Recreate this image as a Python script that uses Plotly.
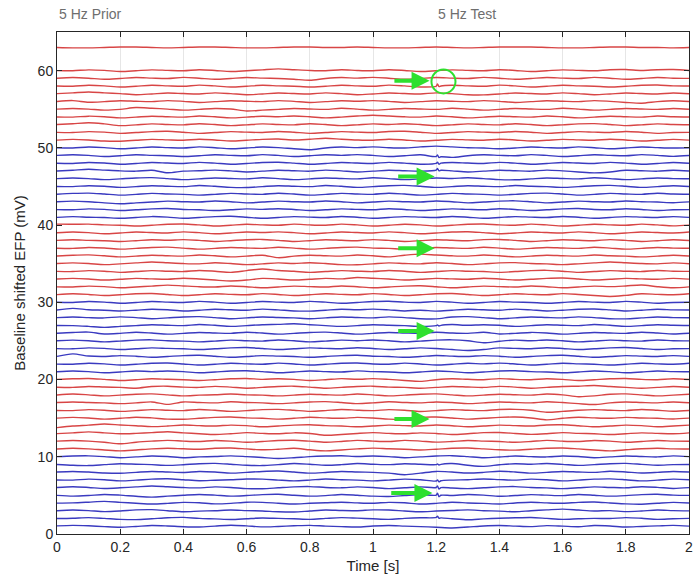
import plotly.graph_objects as go

# ---------------- data ----------------
time_step = 0.05
n_samples = 41
time_s = [round(i * time_step, 3) for i in range(n_samples)]

channels = list(range(1, 61)) + [63]
blue_channels = list(range(1, 11)) + list(range(21, 31)) + list(range(41, 51))

# deviation of each trace from its baseline (mV), read every 0.05 s
dev = {
1: [.05,.12,.06,-.04,-.12,-.02,.1,.04,-.06,-.1,.02,.14,.05,-.08,-.02,.06,.12,.02,-.05,-.1,.03,.1,.02,-.04,-.12,-.22,-.1,.04,.1,.02,-.05,.08,.02,-.06,.1,.04,-.1,-.02,.05,.12,.02],
2: [0,.04,.12,.02,-.1,-.14,-.03,.1,.15,.02,-.04,-.12,-.02,.08,.02,-.03,-.1,.02,.12,.05,-.03,-.1,.02,.1,.14,-.02,-.15,-.04,.03,.1,.14,.02,-.1,-.03,.02,0,.12,.03,-.1,-.02,.02],
3: [.02,.1,.03,-.1,-.02,.12,.15,.02,-.12,-.04,.02,.1,.03,-.02,-.12,-.15,-.02,.1,.04,.02,.12,.1,-.02,-.12,-.03,.04,.12,.02,-.04,-.12,.02,.12,.22,.1,-.02,.03,-.1,-.02,.1,.03,0],
4: [0,.03,.12,.22,.1,-.02,-.12,-.03,.1,.04,-.1,-.03,.12,.1,-.02,-.12,-.02,.04,.12,.03,-.02,.1,.04,-.12,-.03,.12,.02,-.04,-.12,.02,.12,.03,-.02,.1,.14,.02,-.1,-.14,-.02,.1,.02],
5: [0,-.1,-.02,.12,.03,-.12,-.22,-.1,.02,.12,.03,-.1,-.02,.1,.14,.02,-.1,-.03,.12,.02,-.1,-.14,-.02,.1,.03,-.02,.12,.04,-.12,-.02,.1,.03,-.03,.12,.02,-.1,-.03,.1,.14,.03,0],
6: [.02,.12,.03,-.1,-.02,.1,.22,.12,.02,-.03,.1,.03,-.12,-.14,-.02,.1,.14,.03,-.02,.1,.02,-.12,-.02,.1,.02,-.04,-.12,-.02,.1,.14,.02,-.03,-.12,-.02,.1,.03,-.02,.12,.04,-.1,0],
7: [0,-.02,.1,.03,-.12,-.03,.1,.15,.03,-.1,-.04,.02,.12,.1,-.02,-.12,-.02,.12,.03,-.02,-.12,-.02,.1,.02,-.14,-.02,.03,.12,.04,-.03,.1,.02,-.12,-.02,.1,.14,.02,-.12,-.03,.1,.02],
8: [.02,.1,.02,-.1,-.14,-.02,.1,.03,-.03,.1,.03,-.12,-.02,.1,.15,.02,-.12,-.03,.1,.03,-.02,-.12,-.32,-.12,.1,.02,-.1,-.02,.12,.03,-.12,-.02,.1,.03,-.02,.12,.03,-.1,-.02,.1,.02],
9: [0,-.1,-.14,-.02,.1,.04,-.02,-.12,-.03,.1,.14,.03,-.1,-.14,-.02,.12,.03,-.1,-.02,.12,.04,-.02,.1,.03,-.02,.12,-.1,-.24,-.04,.1,.03,.12,.02,-.12,-.02,.1,.14,.02,-.1,-.02,0],
10: [.02,.1,.12,.02,-.12,-.02,.1,.03,-.12,-.02,.03,.12,.02,-.1,-.22,-.12,.02,.1,.14,.03,.1,.02,-.12,-.02,.1,.14,.02,-.12,-.03,.1,.02,-.02,.1,.03,-.12,-.02,.1,.03,-.02,.12,.02],
11: [0,.1,.02,-.12,-.24,-.12,.02,.1,.03,-.02,.1,.14,.02,-.1,-.02,.1,-.1,-.24,-.12,.02,.12,.03,-.02,-.12,-.02,.1,.14,.02,-.1,-.14,-.02,.1,.14,.02,-.12,-.24,-.1,.03,.1,.02,0],
12: [.02,.1,.03,-.12,-.32,-.12,.02,.12,.03,-.02,.1,.02,-.12,-.02,.1,.14,.02,-.12,-.02,.12,.03,-.02,.12,.03,-.1,-.02,.1,.03,-.03,-.12,-.02,.12,.02,-.02,.1,.03,-.12,-.02,.1,.02,0],
13: [0,.1,.22,.1,-.02,.03,.12,.24,.1,-.02,-.12,-.02,.12,.03,-.02,.1,.02,-.22,-.12,.02,.12,.03,-.02,.1,.02,-.12,-.02,.12,.14,.02,-.1,-.02,.12,.03,-.02,-.12,-.02,.1,.03,-.02,.1],
14: [-.22,-.02,.1,.24,.12,.02,-.1,-.02,.12,.03,-.02,.1,.03,-.12,-.02,.1,.14,.03,-.02,-.12,-.02,.1,.03,-.02,.12,.02,-.12,-.02,.1,.03,-.02,.12,.14,.02,-.12,-.02,.1,.03,-.12,-.02,.1],
15: [0,.1,.02,-.12,-.02,.12,.03,-.12,-.14,-.02,.1,.14,.03,-.02,-.12,-.02,.12,.03,-.02,.1,.02,-.12,-.14,.1,.14,.02,-.12,-.02,.1,.14,.02,-.22,-.02,.12,.03,-.02,.1,.02,-.02,-.1,0],
16: [0,-.02,.1,.03,-.12,-.02,.1,.03,-.02,.12,.02,-.12,-.02,.1,.14,.02,-.12,-.02,.12,.03,-.02,.1,.02,-.14,-.02,.1,.03,-.02,.12,.14,.02,-.24,-.12,.02,.1,.03,-.02,.12,.02,-.1,0],
17: [.02,.1,.02,-.02,-.12,-.02,.1,-.22,.1,.03,-.02,.12,.03,-.02,-.12,-.02,.1,.14,.02,-.12,-.02,.12,.03,-.02,.1,.02,-.12,-.02,.1,.03,-.02,.12,.02,-.12,-.24,-.02,.1,.03,-.02,.1,0],
18: [0,.12,.02,-.12,-.02,.1,.14,.02,-.12,-.02,.03,.12,.02,-.02,-.12,-.02,.1,.03,-.02,.12,.02,-.12,-.02,.1,.14,.02,-.12,-.02,.1,.03,-.02,.12,.02,-.22,-.12,.1,.14,.02,-.12,-.02,.1],
19: [0,-.02,.1,.03,-.02,-.12,.1,.14,.02,-.02,.12,.02,-.12,-.02,.1,.14,.02,-.12,-.02,.1,.14,.02,-.02,-.12,-.02,.1,.03,-.02,.12,.02,-.12,-.02,.1,.14,.22,.1,-.02,-.12,-.02,.1,0],
20: [.02,.1,.14,.02,-.12,-.02,.1,.03,-.02,-.12,-.02,.1,.14,.02,.1,.02,-.12,-.02,.12,.03,.12,.02,-.12,-.24,-.02,.1,.03,-.02,.12,.02,-.02,.1,.02,-.12,-.02,.1,.14,.02,-.02,.1,0],
21: [0,.1,.02,-.12,-.02,.1,.03,.1,.02,-.12,-.02,.1,.14,.02,-.12,-.02,.1,.03,-.02,.12,.02,-.02,-.12,-.02,.1,.03,-.12,-.02,.1,.14,.02,-.02,-.12,-.02,.1,.02,-.12,-.02,.1,.02,0],
22: [0,-.02,.1,.03,-.12,-.02,.1,.14,.02,-.12,-.02,.1,.03,-.02,.12,.02,-.12,-.02,.1,.14,.02,-.02,.12,.02,-.12,-.02,.1,.03,.12,.02,-.12,-.02,.1,.03,-.02,-.12,-.02,.1,.03,-.02,.1],
23: [0,.32,.04,-.02,.1,.02,-.12,-.02,.1,.14,.02,-.12,-.02,.1,.03,-.02,-.12,-.02,.1,.14,.02,-.02,-.12,-.02,.12,.03,-.02,.1,.02,-.12,-.02,.1,.14,.02,-.12,-.02,.1,.03,-.02,.1,0],
24: [0,-.02,.1,.03,-.12,-.02,.1,.03,-.02,-.12,-.02,.1,.14,.02,-.12,-.02,.1,.03,-.02,.12,.02,-.12,-.02,.1,.02,-.12,-.24,-.12,.1,.03,-.02,.12,.02,-.12,-.02,.1,.14,.02,-.12,-.02,0],
25: [.02,.1,.02,-.12,-.02,.1,.14,.02,-.02,-.12,-.02,.1,.03,-.02,.12,.02,-.12,-.02,.1,.03,.12,.02,-.12,-.02,.1,.14,.02,-.24,-.04,.1,.02,.12,.02,-.12,-.02,.1,.03,-.02,.12,.02,0],
26: [0,.1,.14,-.1,-.02,.12,.02,-.12,-.02,.1,.03,-.02,.12,.02,-.12,-.02,.1,.14,.02,-.12,-.02,.1,.03,-.02,.12,.02,-.02,.12,-.1,-.02,.1,.03,-.12,-.02,.1,.03,-.02,.12,.02,-.1,0],
27: [0,-.02,-.12,-.24,-.12,-.02,.1,.03,-.02,.12,.02,-.12,-.02,.1,.14,.22,.1,-.02,-.12,-.02,.1,.03,-.02,-.12,-.02,.12,.02,.1,.02,-.12,-.02,.1,.03,-.02,.12,.02,-.12,-.02,.1,.02,0],
28: [.02,.1,.02,-.02,.12,.02,-.12,-.02,.1,.14,.02,-.12,-.02,.1,.03,-.02,-.12,-.02,.1,.03,-.02,.12,.02,-.12,-.14,.1,.14,.02,-.12,-.02,.1,.03,-.02,.12,.02,-.12,-.14,-.02,.1,.02,0],
29: [0,.22,.04,-.02,-.12,-.02,.1,.03,-.12,-.02,.1,.03,-.02,.12,.02,-.12,-.14,-.02,.1,.03,.12,.02,-.12,-.02,-.14,-.02,.1,.03,-.02,.12,.02,-.12,-.02,.1,.14,.02,-.12,-.02,.1,.02,0],
30: [0,-.02,.1,.03,-.12,-.02,.1,.03,-.02,.12,.02,-.12,-.02,.1,.03,-.02,.12,.02,-.12,-.02,.1,.14,.02,-.02,.12,.02,-.12,-.02,.1,.03,-.02,-.12,-.02,.1,.03,-.02,.12,.02,-.12,-.02,0],
31: [0,.1,.02,-.12,-.02,.1,.14,.02,-.12,-.02,.1,.03,-.02,.12,.02,-.12,-.02,.1,.03,-.02,.12,.02,-.12,-.02,.1,.14,.02,-.12,-.02,.1,.03,-.02,.12,.02,-.12,-.24,-.1,.1,.03,-.02,.1],
32: [0,-.02,.1,.03,-.12,-.02,.1,.22,.12,.02,-.02,.12,.02,-.12,-.02,.1,.03,-.02,.12,.02,-.12,-.02,.1,.14,.02,-.12,-.02,.1,.03,-.02,.12,.02,-.12,-.02,.1,.03,.12,.24,.02,-.12,0],
33: [.02,.1,.02,-.12,-.02,.1,.03,-.02,.12,.02,-.12,-.24,-.12,.1,.02,-.12,-.02,.1,.03,.22,.12,.02,-.12,-.02,.1,.03,-.02,.12,.02,-.12,-.02,.1,.14,.02,-.12,-.02,.1,.03,-.02,.1,0],
34: [0,-.02,.1,.03,-.12,-.02,.1,.03,-.02,.12,.02,-.12,.1,.32,.12,.02,-.12,-.02,.1,.03,-.02,.12,.02,-.12,-.02,.1,.03,-.02,-.12,-.02,.1,.14,.02,-.12,-.02,.1,.03,-.02,.12,.02,0],
35: [.02,.1,.02,-.12,-.02,.1,.22,.12,.02,-.02,.12,.02,-.12,-.02,.1,.03,.12,.02,-.12,-.14,-.02,.1,.03,-.02,.12,.02,-.12,-.02,.1,.14,.02,-.02,-.12,-.02,.1,.22,.12,.02,-.02,.1,0],
36: [0,.1,.14,.02,-.12,-.02,.1,.03,-.02,.12,.02,-.12,-.02,.1,-.22,-.02,.1,.03,-.02,.12,.02,-.12,.1,.24,.12,.02,-.02,.12,.02,-.12,-.02,.1,.03,-.02,.12,.02,-.02,-.12,-.02,.1,0],
37: [0,-.02,.1,.03,-.12,-.02,.1,.14,.02,-.12,-.02,.1,.03,-.02,.12,.02,-.12,-.02,.1,.14,.02,-.02,-.12,-.02,.1,.03,-.02,.12,.02,-.12,-.02,.1,.03,-.02,.12,.02,-.12,-.02,.1,.02,0],
38: [.02,.1,.02,-.02,-.12,-.02,.1,.03,.12,.02,-.12,-.02,.1,.14,.02,-.12,-.02,.1,.03,-.02,.12,.02,-.12,-.02,.1,.03,-.02,.12,.14,.02,-.12,-.02,.1,.03,-.02,.12,.02,-.12,-.02,.1,0],
39: [0,.1,.02,-.12,-.02,.1,.03,-.02,.12,.02,-.12,-.02,.1,.03,.12,.02,-.12,-.02,.1,.03,-.02,.12,.02,-.12,-.02,.1,.14,.02,-.12,-.02,.1,.03,-.02,.12,.02,-.12,-.02,.1,.03,-.02,.1],
40: [.12,.1,.12,.02,-.02,-.12,-.02,.1,.14,.02,-.12,-.02,.1,.03,-.02,.12,.02,-.02,.12,.02,-.12,-.02,.1,.03,-.12,-.02,.1,.14,.02,-.02,.12,.02,-.12,-.02,.1,.03,-.02,.12,.02,-.1,0],
41: [0,.1,.02,-.02,-.12,-.02,.1,.03,-.12,-.02,.1,.14,.02,-.12,-.02,.1,.03,-.02,.12,.02,-.12,-.02,.1,.03,-.02,.12,.02,-.12,-.02,.1,.03,-.02,.12,.02,-.12,-.02,.1,.03,-.02,.1,0],
42: [0,-.02,.1,.03,-.12,-.02,.1,.14,.02,-.02,-.12,-.02,.1,.03,.12,.02,-.12,-.02,.1,.03,-.02,.12,.02,-.12,-.02,.1,.03,-.02,.12,.02,-.12,-.02,.1,.14,.02,-.02,.12,.02,-.12,-.02,0],
43: [.02,.1,.02,-.12,-.24,-.12,-.02,.1,.03,-.02,.12,.02,-.12,-.02,.1,.03,-.02,.12,.02,-.12,-.02,.1,.03,-.02,.12,.02,-.12,-.02,.1,.14,.02,-.12,-.02,.1,.03,-.02,.12,.02,-.02,-.1,0],
44: [0,.1,.14,.02,-.12,-.02,.1,.03,-.02,-.12,-.02,.1,.03,-.02,.12,.02,-.12,-.02,.1,.03,-.02,.12,.02,-.12,-.02,.1,.03,-.02,-.12,-.02,.1,.14,.02,-.12,-.02,.1,.03,-.02,.12,.02,0],
45: [0,-.02,.1,.03,-.12,-.02,.1,.03,-.02,.12,.02,-.12,-.14,-.02,.1,.03,-.02,.12,.02,-.12,-.02,.1,.14,.02,-.12,-.02,.1,.03,-.02,.12,.02,-.02,-.12,-.02,.1,.14,.02,-.12,-.02,.1,0],
46: [.02,.1,.02,-.12,-.02,.1,.14,.02,-.12,-.02,.1,.03,-.02,.12,.02,-.12,-.02,.1,.03,-.02,.12,.02,-.12,-.02,.1,.03,.12,.02,-.12,-.14,-.02,.1,.03,-.02,.12,.02,-.12,-.02,.1,.02,0],
47: [0,.1,.22,.12,.02,-.02,.1,-.22,-.02,.03,.12,.02,-.12,-.02,.1,.03,-.02,.12,.02,-.12,-.02,.1,.03,-.02,.12,.02,-.12,-.02,.1,.03,-.02,.12,.02,-.12,-.24,-.12,.1,.03,-.02,.1,0],
48: [0,-.02,.1,.03,-.12,-.02,.1,.03,-.02,.12,.02,-.12,-.02,.1,.14,.02,-.12,-.02,.1,.03,-.02,.12,.02,-.12,-.02,.1,.03,-.02,.12,.02,-.12,-.02,.1,.03,-.02,.12,.02,-.12,-.02,.1,0],
49: [.02,.1,.02,-.12,-.02,.1,.03,-.02,-.12,-.02,.1,.03,-.02,.12,.02,-.12,-.02,.1,.03,.12,.02,-.12,-.02,.1,-.12,-.24,-.02,.1,.03,-.02,.12,.02,-.12,-.02,.1,.03,-.02,.12,.02,-.1,0],
50: [0,-.02,.1,.03,-.12,-.02,.1,.03,-.02,.12,.02,-.12,-.02,.1,.03,-.12,-.24,-.02,.1,.03,.12,.02,-.02,.12,.22,.12,.02,-.02,-.12,-.02,.1,.03,-.02,.12,.02,-.12,-.02,.1,.03,-.02,0],
51: [0,.1,.02,-.12,-.14,-.02,.1,.03,-.02,.12,.02,-.12,-.02,.1,.14,.02,.12,.24,.12,.02,-.02,.12,.02,-.12,-.02,.1,.03,-.02,.12,.02,-.12,-.02,.1,.03,-.02,.12,.02,-.12,-.02,.1,0],
52: [0,-.02,.1,.03,-.12,-.02,.1,.14,.02,-.12,-.02,.1,.03,-.02,.12,.02,-.12,-.02,.1,.03,-.02,.12,.14,.02,-.12,-.02,.1,.03,-.02,.12,.02,-.12,-.02,.1,.03,-.02,.12,.02,-.12,-.02,0],
53: [.02,.12,.24,.1,-.12,-.02,.1,.03,-.02,.12,.02,-.12,-.02,.1,.03,-.02,.12,.02,-.12,-.02,.1,.03,.12,.02,-.12,-.02,.1,.03,-.02,.12,.02,-.12,-.02,.1,.14,.02,-.12,-.02,.1,.02,0],
54: [0,-.02,.1,.03,-.12,-.02,.1,.03,-.02,.12,.02,-.12,-.02,.1,.03,.12,.02,-.12,-.02,.12,.22,.12,.02,-.02,.12,.02,-.12,-.02,.1,.03,-.02,.12,.02,-.12,-.02,.1,.03,-.02,.12,.02,0],
55: [.02,.1,.02,-.12,-.02,.22,.12,.02,-.12,-.02,.1,.03,-.22,-.12,-.02,.1,.03,-.02,.12,.02,-.12,-.02,.1,.03,-.02,.12,.02,-.12,-.02,.1,.03,-.02,.12,.02,-.12,-.02,.1,.03,-.02,.1,0],
56: [0,.12,-.1,-.02,.1,.03,-.02,.12,.02,-.12,-.02,.1,.03,-.02,.12,.02,-.12,-.02,.1,.03,.12,.02,-.12,-.02,.1,.03,-.02,.12,.02,-.12,-.02,.1,.03,-.02,.12,.02,-.12,-.22,-.02,.1,0],
57: [.02,.12,.24,.12,.02,-.12,-.02,.1,.03,-.02,.12,.02,-.12,-.02,.1,.03,-.02,.12,.02,-.12,-.02,.1,.03,-.02,.12,.02,-.12,-.14,-.02,.1,.03,-.02,.12,.02,-.12,-.02,.1,.03,-.02,.1,0],
58: [0,-.02,.1,.03,-.12,-.02,.1,.03,-.02,.12,.02,-.12,-.02,.1,.03,-.02,-.12,-.02,.1,.03,-.02,.12,.02,-.12,-.02,.1,.03,-.02,.12,.02,-.12,-.02,.1,.03,-.02,-.12,-.02,.1,.14,.02,0],
59: [.02,.1,.02,-.12,-.02,.1,.03,-.02,.12,.02,-.12,-.02,.1,.03,-.02,-.12,-.24,-.02,.1,.03,.12,.02,-.12,-.02,.1,.03,-.02,.12,.02,-.12,-.02,.1,.03,-.02,.12,.02,-.12,-.02,.1,.02,0],
60: [0,-.02,.1,.03,-.12,-.02,.1,.03,-.02,.12,.02,-.12,-.02,.1,.22,.12,.02,-.02,.12,.02,-.02,.12,.02,-.12,-.02,.1,.03,-.02,.12,.02,-.12,-.02,.1,.03,-.02,.12,.14,.02,.12,.14,.02],
63: [0,-.05,-.05,0,.05,.05,0,-.05,0,.05,.05,0,-.05,-.05,0,.05,.05,0,0,.05,0,-.05,-.05,0,.05,0,-.05,0,.05,.05,.05,0,-.05,-.05,0,.05,.05,0,0,-.05,0],
}

# stimulus artefacts at t = 1.2 s (mV above / below the trace)
artifact_channels = [2, 5, 6, 7, 9, 27, 47, 48, 49, 58]
artifact_up = [0.15, 0.25, 0.2, 0.15, 0.1, 0.1, 0.2, 0.15, 0.2, 0.3]
artifact_down = [0.1, 0.2, 0.2, 0.1, 0.05, 0.05, 0.1, 0.1, 0.15, 0.05]
artifact_time = 1.2

# green arrow annotations (data coords)
arrow_y = [58.7, 46.3, 37.0, 26.3, 14.9, 5.3]
arrow_x_tail = [1.063, 1.075, 1.075, 1.075, 1.063, 1.053]
arrow_x_head = [1.179, 1.195, 1.195, 1.195, 1.179, 1.188]
circle_center = (1.223, 58.6)

x_ticks = [0, 0.2, 0.4, 0.6, 0.8, 1, 1.2, 1.4, 1.6, 1.8, 2]
x_tick_labels = ["0", "0.2", "0.4", "0.6", "0.8", "1", "1.2", "1.4", "1.6", "1.8", "2"]
y_ticks = [0, 10, 20, 30, 40, 50, 60]

RED = "#d84545"
BLUE = "#3a3ac0"
GREEN = "#2ee02e"
AX = "#262626"

fig = go.Figure()
idx_art = time_s.index(artifact_time)
for ch in channels:
    xs = list(time_s)
    ys = [ch + d for d in dev[ch]]
    if ch in artifact_channels:
        k = artifact_channels.index(ch)
        base = ys[idx_art]
        nxt = ys[idx_art + 1]
        ins_x = [artifact_time + 0.004, artifact_time + 0.009, artifact_time + 0.015]
        ins_y = [base + artifact_up[k], base - artifact_down[k], base + (nxt - base) * 0.3]
        xs = xs[:idx_art + 1] + ins_x + xs[idx_art + 1:]
        ys = ys[:idx_art + 1] + ins_y + ys[idx_art + 1:]
    fig.add_trace(go.Scatter(
        x=xs, y=ys, mode="lines",
        line=dict(color=BLUE if ch in blue_channels else RED, width=1.4,
                  shape="spline", smoothing=0.8),
        showlegend=False, hoverinfo="skip"))

for yv, x0, x1 in zip(arrow_y, arrow_x_tail, arrow_x_head):
    fig.add_annotation(x=x1, y=yv, ax=x0, ay=yv, xref="x", yref="y",
                       axref="x", ayref="y", showarrow=True, text="",
                       arrowhead=2, arrowsize=0.9, arrowwidth=4,
                       arrowcolor=GREEN)

cx, cy = circle_center
fig.add_shape(type="circle", xref="x", yref="y",
              x0=cx - 0.038, x1=cx + 0.038, y0=cy - 1.55, y1=cy + 1.55,
              line=dict(color=GREEN, width=2))

fig.add_annotation(x=0, y=1.0, xref="x", yref="paper", yanchor="bottom",
                   xanchor="left", yshift=8, text="5 Hz Prior", showarrow=False,
                   font=dict(size=14, color="#6e6e6e"))
fig.add_annotation(x=1.2, y=1.0, xref="x", yref="paper", yanchor="bottom",
                   xanchor="left", yshift=8, text="5 Hz Test", showarrow=False,
                   font=dict(size=14, color="#6e6e6e"))

axis_common = dict(showline=True, linecolor=AX, linewidth=1, mirror="ticks",
                   ticks="inside", ticklen=5, tickcolor=AX,
                   tickfont=dict(size=14, color=AX), zeroline=False)

fig.update_layout(
    width=695, height=583,
    margin=dict(l=57, r=2, t=32, b=49),
    plot_bgcolor="white", paper_bgcolor="white",
    font=dict(family="Liberation Sans, Arial, sans-serif", color=AX),
    xaxis=dict(range=[0, 2], tickvals=x_ticks, ticktext=x_tick_labels,
               showgrid=True, gridcolor="#e6e6e6", gridwidth=1,
               ticklabeloverflow="allow",
               title=dict(text="Time [s]", font=dict(size=15, color=AX), standoff=6),
               **axis_common),
    yaxis=dict(range=[0, 65], tickvals=y_ticks, showgrid=False,
               title=dict(text="Baseline shifted EFP (mV)", font=dict(size=15, color=AX), standoff=8),
               **axis_common),
)

fig.write_html("out.html")
